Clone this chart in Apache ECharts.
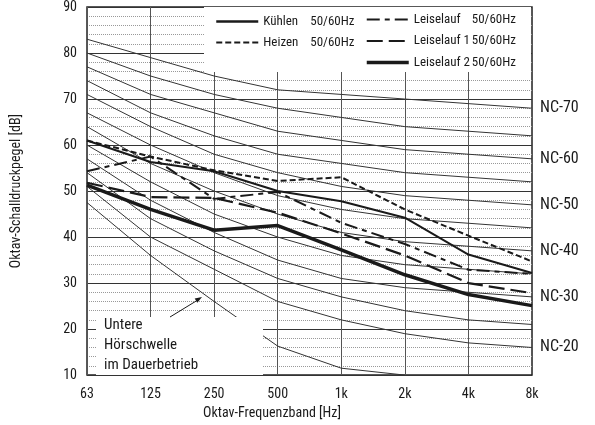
<!DOCTYPE html>
<html>
<head>
<meta charset="utf-8">
<script src="https://cdn.jsdelivr.net/npm/echarts@6/dist/echarts.min.js"></script>
<style>
  html, body { margin: 0; padding: 0; background: #fff; }
  #chart { width: 595px; height: 425px; }
</style>
</head>
<body>
<div id="chart"></div>
<script>
// octave bands
const bands = ['63', '125', '250', '500', '1k', '2k', '4k', '8k']

// measured curves [dB]
const kuehlen = [61, 56.3, 54.3, 50, 47.8, 44.2, 36.2, 32.2]
const heizen = [61, 57.5, 54.5, 52.2, 53, 46, 40.3, 34.7]
const leiselauf = [54.3, 57.5, 48.3, 49.8, 43.1, 38.5, 32.9, 32]
const leiselauf1 = [51.8, 48.7, 48.5, 45.3, 40.8, 36, 30, 27.8]
const leiselauf2 = [51.3, 46, 41.5, 42.5, 37.2, 31.8, 27.5, 25.1]

// lower hearing threshold
const hoerschwelle = [47.5, 36, 26, 16.3, 11.5, 10, null, null]

// NC curves
const ncNames = ['NC-20', 'NC-25', 'NC-30', 'NC-35', 'NC-40', 'NC-45', 'NC-50', 'NC-55', 'NC-60', 'NC-65', 'NC-70']
const ncValues = [
  [51, 40, 33, 26, 22, 19, 17, 16],
  [54, 44, 37, 31, 27, 24, 22, 21],
  [57, 48, 41, 35, 31, 29, 28, 27],
  [60, 52, 45, 40, 36, 34, 33, 32],
  [64, 56, 50, 45, 41, 39, 38, 37],
  [67, 60, 54, 49, 46, 44, 43, 42],
  [71, 64, 58, 54, 51, 49, 48, 47],
  [74, 67, 62, 58, 56, 54, 53, 52],
  [77, 71, 67, 63, 61, 59, 58, 57],
  [80, 75, 71, 68, 66, 64, 63, 62],
  [83, 79, 75, 72, 71, 70, 69, 68]
]
const ncLabelled = ['NC-20', 'NC-30', 'NC-40', 'NC-50', 'NC-60', 'NC-70']

const font = "'Liberation Sans Narrow', 'Roboto Condensed', 'DejaVu Sans Condensed', sans-serif"
const ink = '#1a1a1a'

const chart = echarts.init(document.getElementById('chart'))

const ncSeries = ncNames.map((name, i) => ({
  name: name,
  type: 'line',
  data: ncValues[i],
  symbol: 'none',
  silent: true,
  z: 2,
  lineStyle: { color: '#333', width: 1 },
  endLabel: {
    show: ncLabelled.indexOf(name) >= 0,
    formatter: name,
    distance: 8,
    color: ink,
    fontFamily: font,
    fontSize: 16
  }
}))

function measured(name, data, width, type) {
  return {
    name: name,
    type: 'line',
    data: data,
    symbol: 'none',
    z: 4,
    itemStyle: { color: ink },
    lineStyle: { color: ink, width: width, type: type }
  }
}

const legendText = (w) => ({
  fontFamily: font,
  fontSize: 13,
  color: ink,
  rich: {
    a: { width: w, fontFamily: font, fontSize: 13, color: ink },
    b: { fontFamily: font, fontSize: 13, color: ink }
  }
})

const hiddenSymbol = { color: 'rgba(0,0,0,0)', borderColor: 'rgba(0,0,0,0)', borderWidth: 0, opacity: 0 }

chart.setOption({
  animation: false,
  textStyle: { fontFamily: font },
  grid: {
    left: 87,
    right: 63,
    top: 6,
    bottom: 49,
    show: true,
    borderColor: '#222',
    borderWidth: 1.5
  },
  legend: [
    {
      data: [{ name: 'Kühlen', lineStyle: { width: 2.5 } }, 'Heizen'],
      orient: 'vertical',
      left: 210,
      top: 10,
      itemWidth: 42,
      itemHeight: 14,
      itemGap: 8,
      z: 10,
      selectedMode: false,
      itemStyle: hiddenSymbol,
      formatter: name => `{a|${name}}{b|50/60Hz}`,
      textStyle: legendText(47)
    },
    {
      data: ['Leiselauf', 'Leiselauf 1', { name: 'Leiselauf 2', lineStyle: { width: 3.5 } }],
      orient: 'vertical',
      left: 360,
      top: 8,
      itemWidth: 42,
      itemHeight: 14,
      itemGap: 8.5,
      z: 10,
      selectedMode: false,
      itemStyle: hiddenSymbol,
      formatter: name => `{a|${name}}{b|50/60Hz}`,
      textStyle: legendText(58)
    }
  ],
  xAxis: {
    type: 'category',
    data: bands,
    boundaryGap: false,
    name: 'Oktav-Frequenzband [Hz]',
    nameLocation: 'middle',
    nameGap: 27,
    nameTextStyle: { fontFamily: font, fontSize: 14, color: ink, padding: [0, 75, 0, 0] },
    axisLine: { show: false },
    axisTick: { show: false },
    axisLabel: { fontFamily: font, fontSize: 14, color: ink, margin: 12 },
    splitLine: { show: true, interval: 0, lineStyle: { color: '#555', width: 1 } }
  },
  yAxis: {
    type: 'value',
    min: 10,
    max: 90,
    interval: 10,
    name: 'Oktav-Schalldruckpegel [dB]',
    nameLocation: 'middle',
    nameGap: 64,
    nameTextStyle: { fontFamily: font, fontSize: 14, color: ink },
    axisLine: { show: false },
    axisTick: { show: false },
    axisLabel: { fontFamily: font, fontSize: 14, color: ink, margin: 10 },
    splitLine: { show: true, lineStyle: { color: '#333', width: 1 } },
    minorTick: { show: false, splitNumber: 5 },
    minorSplitLine: { show: true, lineStyle: { color: '#999', width: 1, type: [1, 1] } }
  },
  graphic: [
    // white legend panel
    { type: 'rect', z: 5, silent: true, shape: { x: 204, y: 7, width: 327, height: 65 }, style: { fill: '#fff' } },
    // white annotation panel
    { type: 'rect', z: 5, silent: true, shape: { x: 96, y: 317, width: 167, height: 58 }, style: { fill: '#fff' } },
    {
      type: 'text', z: 6, silent: true, left: 104, top: 315,
      style: { text: 'Untere\nHörschwelle\nim Dauerbetrieb', font: '15px ' + font, fill: ink, lineHeight: 20 }
    },
    { type: 'line', z: 6, silent: true, shape: { x1: 170, y1: 317, x2: 197, y2: 300.5 }, style: { stroke: ink, lineWidth: 1 } },
    { type: 'polygon', z: 6, silent: true, shape: { points: [[202, 297], [197.3, 302.7], [194.7, 298.4]] }, style: { fill: ink } }
  ],
  series: [
    ...ncSeries,
    {
      name: 'Untere Hörschwelle',
      type: 'line',
      data: hoerschwelle,
      symbol: 'none',
      silent: true,
      z: 2,
      lineStyle: { color: '#333', width: 1 }
    },
    measured('Kühlen', kuehlen, 2, 'solid'),
    measured('Heizen', heizen, 2, [6, 3]),
    measured('Leiselauf', leiselauf, 2, [13, 5, 5, 5]),
    measured('Leiselauf 1', leiselauf1, 2.2, [16, 6]),
    measured('Leiselauf 2', leiselauf2, 3.5, 'solid')
  ]
})
</script>
</body>
</html>
